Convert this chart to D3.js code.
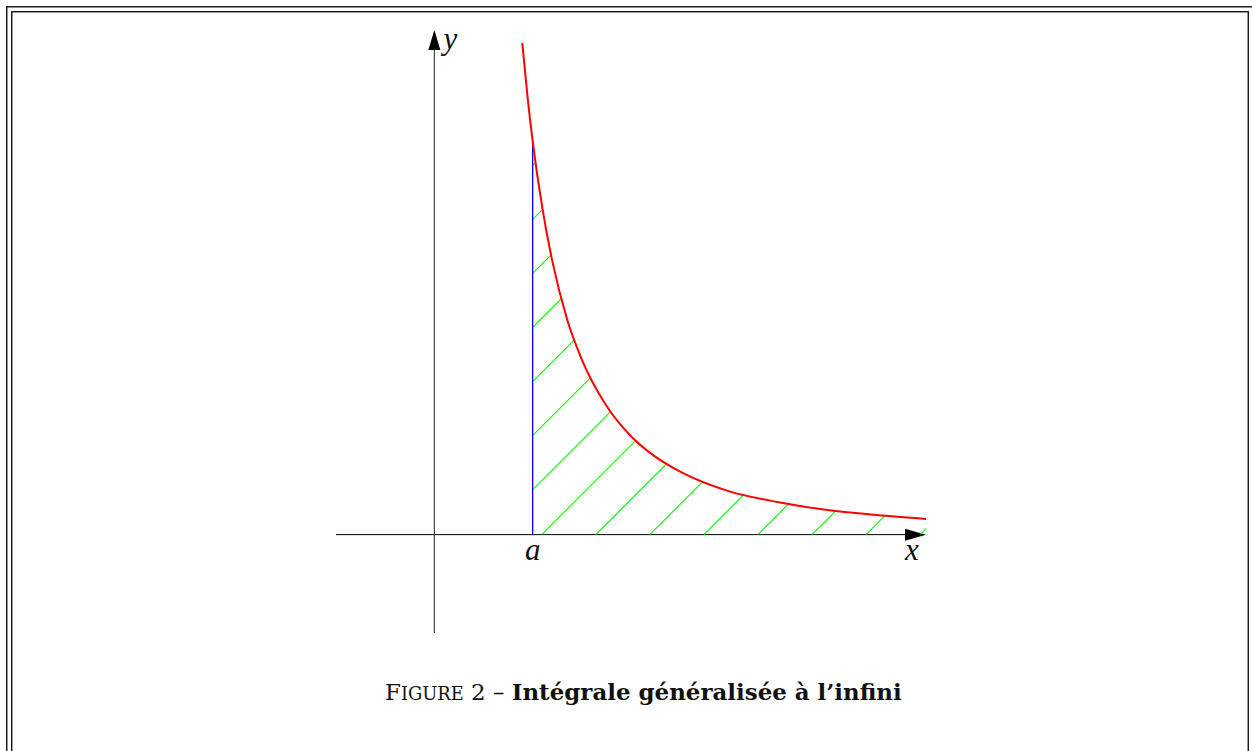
<!DOCTYPE html>
<html>
<head>
<meta charset="utf-8">
<script src="https://cdn.jsdelivr.net/npm/d3@7"></script>
<style>
  html, body { margin: 0; padding: 0; background: #fff; overflow: hidden; }
  svg { display: block; }
</style>
</head>
<body>
<svg id="chart"></svg>
<script>
// curve y = f(x) (x in units, y in units)
const curveX = [0.894, 0.95, 1, 1.1, 1.2, 1.35, 1.5, 1.75, 2, 2.25, 2.5, 3, 3.5, 4, 4.5, 5];
const curveY = [5.0, 4.43, 4.0, 3.31, 2.78, 2.19, 1.78, 1.31, 1.0, 0.79, 0.64, 0.44, 0.33, 0.25, 0.2, 0.16];
const aValue = 1;
const xDomain = [-1, 5];
const yDomain = [-1, 5.13];
const axisLabels = { x: 'x', y: 'y', a: 'a' };
const captionParts = ['F', 'IGURE', ' 2 – ', 'Intégrale généralisée à l’infini'];

const width = 1252;
const height = 751;

const svg = d3.select('#chart').attr('width', width).attr('height', height);

// double frame
svg.append('rect')
  .attr('x', 6.75).attr('y', 6.75)
  .attr('width', 1300).attr('height', 900)
  .attr('fill', 'none').attr('stroke', '#222').attr('stroke-width', 1.5);
svg.append('rect')
  .attr('x', 11.75).attr('y', 11.75)
  .attr('width', 1236.5).attr('height', 900)
  .attr('fill', 'none').attr('stroke', '#000').attr('stroke-width', 1.3);

const x = d3.scaleLinear().domain(xDomain).range([336, 926]);
const y = d3.scaleLinear().domain(yDomain).range([633, 30]);

const pts = curveX.map((d, i) => ({ x: d, y: curveY[i] }));
const x0 = x(0);
const y0 = y(0);

// axes
const axes = svg.append('g').attr('class', 'axes');
axes.append('line')
  .attr('x1', x(xDomain[0])).attr('x2', x(xDomain[1]) - 12)
  .attr('y1', y0).attr('y2', y0)
  .attr('stroke', '#000').attr('stroke-width', 1);
axes.append('line')
  .attr('x1', x0).attr('x2', x0)
  .attr('y1', y(yDomain[0])).attr('y2', y(yDomain[1]) + 12)
  .attr('stroke', '#333').attr('stroke-width', 1.1);
// arrow heads
const xTip = x(xDomain[1]);
const yTip = y(yDomain[1]);
axes.append('path')
  .attr('d', `M${xTip},${y0} L${xTip - 21},${y0 - 6} L${xTip - 21},${y0 + 6} Z`)
  .attr('fill', '#000');
axes.append('path')
  .attr('d', `M${x0},${yTip} L${x0 - 6},${yTip + 20} L${x0 + 6},${yTip + 20} Z`)
  .attr('fill', '#000');

// hatched area under the curve for x >= a
const lineGen = d3.line().x((d) => x(d.x)).y((d) => y(d.y)).curve(d3.curveMonotoneX);
const areaGen = d3.area().x((d) => x(d.x)).y0(y0).y1((d) => y(d.y)).curve(d3.curveMonotoneX);

svg.append('clipPath').attr('id', 'under')
  .append('path')
  .attr('d', areaGen(pts.filter((d) => d.x >= aValue)));

const hatchSep = 54.05; // horizontal gap between hatch lines, px
const hatchStart = 541.7;
const hatchLen = 600;
const hatches = d3.range(-12, 10).map((k) => hatchStart + k * hatchSep);
svg.append('g').attr('clip-path', 'url(#under)')
  .selectAll('line')
  .data(hatches)
  .enter()
  .append('line')
  .attr('x1', (c) => c)
  .attr('y1', y0)
  .attr('x2', (c) => c + hatchLen)
  .attr('y2', y0 - hatchLen)
  .attr('stroke', '#00ff00')
  .attr('stroke-width', 1.1);

// vertical at a
const fa = curveY[curveX.indexOf(aValue)];
svg.append('line')
  .attr('x1', x(aValue)).attr('x2', x(aValue))
  .attr('y1', y0).attr('y2', y(fa))
  .attr('stroke', '#0000ff').attr('stroke-width', 1.3);

// the curve
svg.append('path')
  .attr('d', lineGen(pts))
  .attr('fill', 'none')
  .attr('stroke', '#ff0000')
  .attr('stroke-width', 2);

// labels
const labelFont = '"Liberation Serif", "DejaVu Serif", serif';
const lab = svg.append('g')
  .attr('font-family', labelFont)
  .attr('font-style', 'italic')
  .attr('font-size', 31)
  .attr('fill', '#111');
lab.append('text').attr('x', x(aValue)).attr('y', y0 + 25)
  .attr('text-anchor', 'middle').text(axisLabels.a);
lab.append('text').attr('x', xTip - 14).attr('y', y0 + 25)
  .attr('text-anchor', 'middle').text(axisLabels.x);
lab.append('text').attr('x', x0 + 16).attr('y', yTip + 19)
  .attr('text-anchor', 'middle').text(axisLabels.y);

// caption, fitted to the width it has in the reference
const capFont = '"DejaVu Serif", "Liberation Serif", serif';
const capWidth = 517;
const cap = svg.append('text')
  .attr('x', 385).attr('y', 700)
  .attr('font-family', capFont)
  .attr('fill', '#111');
const t0 = cap.append('tspan').text(captionParts[0]);
const t1 = cap.append('tspan').text(captionParts[1]);
const t2 = cap.append('tspan').text(captionParts[2]);
const t3 = cap.append('tspan').attr('font-weight', 'bold').text(captionParts[3]);
function setCapSize(s) {
  cap.attr('font-size', s);
  t1.attr('font-size', s * 0.78);
}
setCapSize(22);
const w = cap.node().getComputedTextLength();
setCapSize(22 * capWidth / w);
</script>
</body>
</html>
